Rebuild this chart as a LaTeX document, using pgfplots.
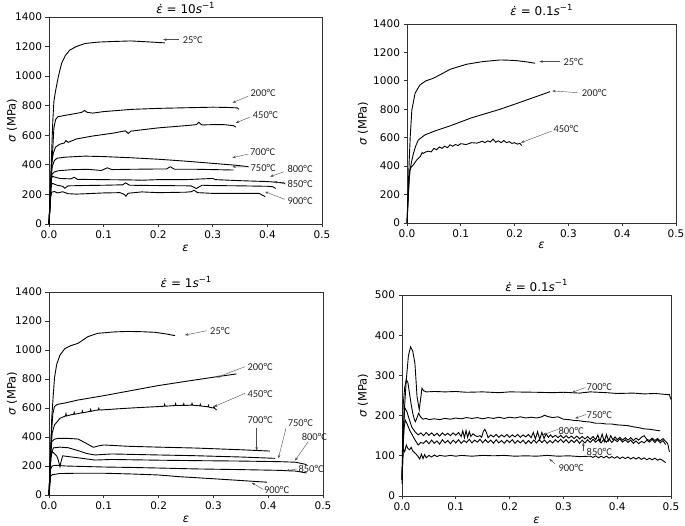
\documentclass[border=0pt]{standalone}
\usepackage{fontspec}
\setmainfont{DejaVu Sans}
\newfontfamily\annfont{Carlito}
\usepackage{pgfplots}
\pgfplotsset{compat=1.18}
\usetikzlibrary{arrows.meta}

\pgfplotsset{
  panel/.style={
    scale only axis,
    anchor=south west,
    xmin=0, xmax=0.5,
    xtick={0,0.1,0.2,0.3,0.4,0.5},
    tick pos=left,
    tick align=outside,
    major tick length=3.5pt,
    axis line style={black!80, line width=0.8pt},
    every tick/.style={black!80, line width=0.8pt},
    tick label style={font=\fontsize{10.5}{12}\selectfont},
    /pgf/number format/assume math mode=true,
    xticklabel style={/pgf/number format/.cd, fixed, fixed zerofill, precision=1},
    yticklabel style={/pgf/number format/1000 sep={}},
    label style={font=\fontsize{11.5}{13}\selectfont},
    title style={font=\fontsize{12}{14}\selectfont, anchor=center},
    xlabel={\textit{ε}},
    ylabel={\textit{σ} (MPa)},
    clip=false,
    every axis plot post/.append style={black, solid, line width=0.9pt, mark=none},
  },
}
\tikzset{
  ann/.style={font=\annfont\fontsize{10.5}{12}\selectfont, anchor=west, inner sep=0pt, text=black!85},
  arr/.style={-{Stealth[length=3.5pt,width=2.6pt]}, line width=0.4pt, black!70},
}

\begin{document}
\begin{tikzpicture}
\useasboundingbox (0,0) rectangle (685pt,526pt);

% ---------------- Panel 1: 10 s^-1 ----------------
\begin{axis}[panel, at={(49pt,302pt)}, width=273pt, height=207pt,
  ymin=0, ymax=1400, ytick={0,200,...,1400},
  title={\textit{ε̇} = 10\textit{s}\raisebox{0.45em}{\fontsize{8.5}{10}\selectfont −1}},
  title style={at={(axis description cs:0.5,1)}, yshift=3pt},
  xlabel style={at={(axis description cs:0.5,0)}, anchor=center, yshift=-24pt},
  ylabel style={at={(axis description cs:-0.1355,0.5)}, anchor=center}]
% 25C
\addplot coordinates {(0,0) (0.004,400) (0.007,700) (0.009,830) (0.012,900) (0.017,995) (0.023,1086) (0.03,1140) (0.038,1176) (0.05,1200) (0.066,1221) (0.09,1230) (0.115,1234) (0.15,1238) (0.18,1232) (0.212,1225)};
% 200C
\addplot coordinates {(0,0) (0.006,450) (0.009,650) (0.012,705) (0.016,725) (0.03,735) (0.05,748) (0.06,755) (0.065,768) (0.07,755) (0.08,750) (0.1,760) (0.15,775) (0.2,782) (0.25,786) (0.3,790) (0.33,788) (0.345,785) (0.348,775)};
% 450C
\addplot coordinates {(0,0) (0.005,420) (0.008,480) (0.012,520) (0.02,540) (0.028,548) (0.031,565) (0.035,552) (0.05,575) (0.08,595) (0.115,613) (0.14,630) (0.145,612) (0.15,628) (0.2,650) (0.25,665) (0.27,672) (0.274,688) (0.28,670) (0.3,672) (0.32,672) (0.338,665) (0.342,655)};
% 700C
\addplot coordinates {(0,0) (0.004,330) (0.006,390) (0.01,430) (0.015,445) (0.03,452) (0.066,459) (0.1,456) (0.15,448) (0.2,438) (0.25,425) (0.3,410) (0.34,398) (0.365,388)};
% 750C
\addplot coordinates {(0,0) (0.004,300) (0.006,340) (0.01,352) (0.017,360) (0.04,367) (0.07,370) (0.096,362) (0.107,380) (0.115,368) (0.15,370) (0.2,372) (0.215,372) (0.222,387) (0.23,370) (0.27,370) (0.3,368) (0.338,365)};
% 800C
\addplot coordinates {(0,0) (0.004,300) (0.006,322) (0.01,318) (0.02,308) (0.04,305) (0.046,316) (0.052,302) (0.1,300) (0.15,298) (0.17,296) (0.2,300) (0.25,300) (0.3,308) (0.305,300) (0.35,293) (0.4,287) (0.43,278) (0.432,272)};
% 850C
\addplot coordinates {(0,0) (0.004,260) (0.006,275) (0.015,262) (0.025,255) (0.029,242) (0.035,258) (0.06,260) (0.1,262) (0.135,265) (0.14,278) (0.148,262) (0.2,260) (0.26,258) (0.27,240) (0.28,262) (0.3,260) (0.35,258) (0.4,255) (0.41,252) (0.415,240)};
% 900C
\addplot coordinates {(0,0) (0.003,180) (0.005,215) (0.01,220) (0.015,210) (0.025,218) (0.035,205) (0.05,202) (0.1,210) (0.13,212) (0.138,200) (0.141,188) (0.145,208) (0.17,217) (0.2,212) (0.25,215) (0.26,218) (0.266,228) (0.272,212) (0.3,207) (0.35,207) (0.385,207) (0.396,185)};
\node[ann] at (axis cs:0.2447,1243) {25°C};
\draw[arr] (axis cs:0.2387,1247) -- (axis cs:0.209,1247);
\node[ann] at (axis cs:0.369,883) {200°C};
\draw[arr] (axis cs:0.365,865) -- (axis cs:0.336,820);
\node[ann] at (axis cs:0.373,736) {450°C};
\draw[arr] (axis cs:0.369,724) -- (axis cs:0.342,684);
\node[ann] at (axis cs:0.368,484) {700°C};
\draw[arr] (axis cs:0.365,473) -- (axis cs:0.336,448);
\node[ann] at (axis cs:0.369,381) {750°C};
\draw[arr] (axis cs:0.367,385) -- (axis cs:0.336,387);
\node[ann] at (axis cs:0.4365,369) {800°C};
\draw[arr] (axis cs:0.430,353) -- (axis cs:0.405,320);
\node[ann] at (axis cs:0.4365,270) {850°C};
\draw[arr] (axis cs:0.434,270) -- (axis cs:0.412,286);
\node[ann] at (axis cs:0.4365,155) {900°C};
\draw[arr] (axis cs:0.432,167) -- (axis cs:0.3956,218);
\end{axis}

% ---------------- Panel 2: 0.1 s^-1 ----------------
\begin{axis}[panel, at={(407pt,303pt)}, width=269pt, height=199pt,
  ymin=0, ymax=1400, ytick={0,200,...,1400},
  title={\textit{ε̇} = 0.1\textit{s}\raisebox{0.45em}{\fontsize{8.5}{10}\selectfont −1}},
  title style={at={(axis description cs:0.5,1)}, yshift=8pt},
  xlabel style={at={(axis description cs:0.5,0)}, anchor=center, yshift=-22pt},
  ylabel style={at={(axis description cs:-0.1636,0.5)}, anchor=center}]
% 25C
\addplot coordinates {(0,0) (0.0025,255) (0.004,430) (0.006,607) (0.009,795) (0.015,913) (0.024,971) (0.035,1000) (0.049,1018) (0.065,1050) (0.08,1081) (0.111,1117) (0.14,1135) (0.173,1147) (0.19,1145) (0.204,1142) (0.225,1132) (0.238,1124)};
% 200C
\addplot coordinates {(0,0) (0.004,300) (0.006,380) (0.009,440) (0.012,490) (0.016,540) (0.021,584) (0.033,619) (0.05,645) (0.08,683) (0.12,740) (0.173,800) (0.22,862) (0.266,924)};
% 450C
\addplot coordinates {(0,0) (0.003,250) (0.005,370) (0.008,395) (0.012,410) (0.018,443) (0.025,470) (0.028,495) (0.03,490) (0.035,500) (0.04,505) (0.045,500) (0.05,525) (0.055,515) (0.06,535) (0.065,525) (0.07,540) (0.075,530) (0.08,550) (0.085,540) (0.09,552) (0.095,545) (0.1,558) (0.11,552) (0.12,565) (0.13,562) (0.14,575) (0.145,565) (0.15,578) (0.155,570) (0.16,590) (0.165,568) (0.17,578) (0.175,565) (0.18,580) (0.185,565) (0.19,572) (0.195,560) (0.2,565) (0.205,555) (0.21,560) (0.213,545)};
\node[ann] at (axis cs:0.2906,1131) {25°C};
\draw[arr] (axis cs:0.284,1136) -- (axis cs:0.246,1136);
\node[ann] at (axis cs:0.3247,913) {200°C};
\draw[arr] (axis cs:0.3166,917) -- (axis cs:0.270,929);
\node[ann] at (axis cs:0.272,659) {450°C};
\draw[arr] (axis cs:0.269,647) -- (axis cs:0.2119,565);
\end{axis}

% ---------------- Panel 3: 1 s^-1 ----------------
\begin{axis}[panel, at={(49pt,31pt)}, width=274pt, height=203pt,
  ymin=0, ymax=1400, ytick={0,200,...,1400},
  title={\textit{ε̇} = 1\textit{s}\raisebox{0.45em}{\fontsize{8.5}{10}\selectfont −1}},
  title style={at={(axis description cs:0.5,1)}, yshift=4pt},
  xlabel style={at={(axis description cs:0.5,0)}, anchor=center, yshift=-24pt},
  ylabel style={at={(axis description cs:-0.135,0.5)}, anchor=center}]
% 25C
\addplot coordinates {(0,0) (0.003,300) (0.005,531) (0.008,700) (0.01,807) (0.014,900) (0.02,965) (0.029,1010) (0.04,1030) (0.053,1046) (0.071,1092) (0.089,1115) (0.12,1125) (0.144,1128) (0.17,1126) (0.193,1122) (0.215,1110) (0.23,1099)};
% 200C
\addplot coordinates {(0,0) (0.004,400) (0.007,560) (0.01,610) (0.015,625) (0.03,635) (0.053,655) (0.1,685) (0.15,720) (0.2,755) (0.266,793) (0.3,812) (0.342,835)};
% 450C
\addplot coordinates {(0,0) (0.003,300) (0.006,430) (0.01,483) (0.02,529) (0.03,545) (0.031,560) (0.032,545) (0.039,552) (0.045,557) (0.046,570) (0.047,557) (0.06,567) (0.061,580) (0.062,567) (0.075,577) (0.076,590) (0.077,577) (0.084,584) (0.09,586) (0.091,598) (0.092,586) (0.11,590) (0.12,593) (0.15,600) (0.2,610) (0.21,612) (0.211,625) (0.212,612) (0.23,617) (0.231,630) (0.232,617) (0.245,618) (0.246,630) (0.247,617) (0.26,620) (0.261,632) (0.262,619) (0.275,615) (0.276,626) (0.277,614) (0.29,608) (0.291,618) (0.292,606) (0.3,600) (0.301,610) (0.302,598) (0.306,586)};
% 700C
\addplot coordinates {(0,0) (0.003,250) (0.005,368) (0.01,385) (0.017,391) (0.035,390) (0.053,386) (0.068,356) (0.081,329) (0.09,338) (0.1,345) (0.144,336) (0.2,330) (0.266,324) (0.35,312) (0.403,303)};
% 750C
\addplot coordinates {(0,0) (0.004,280) (0.008,325) (0.02,330) (0.035,326) (0.053,306) (0.07,285) (0.084,276) (0.114,283) (0.2,276) (0.266,271) (0.35,262) (0.412,253)};
% 800C
\addplot coordinates {(0,0) (0.003,250) (0.006,300) (0.01,285) (0.014,270) (0.017,240) (0.02,195) (0.022,230) (0.025,270) (0.05,258) (0.084,241) (0.114,245) (0.2,240) (0.266,237) (0.35,234) (0.42,230) (0.45,226) (0.47,210)};
% 850C
\addplot coordinates {(0,0) (0.003,180) (0.006,200) (0.012,205) (0.03,200) (0.06,197) (0.1,193) (0.15,190) (0.2,186) (0.266,180) (0.35,175) (0.42,170) (0.45,165) (0.47,152)};
% 900C
\addplot coordinates {(0,0) (0.003,130) (0.006,140) (0.02,148) (0.05,150) (0.1,150) (0.15,145) (0.2,138) (0.239,126) (0.266,120) (0.3,112) (0.35,100) (0.398,88)};
\node[ann] at (axis cs:0.2938,1131) {25°C};
\draw[arr] (axis cs:0.288,1133) -- (axis cs:0.248,1103);
\node[ann] at (axis cs:0.362,880) {200°C};
\draw[arr] (axis cs:0.3577,885) -- (axis cs:0.306,811);
\node[ann] at (axis cs:0.362,694) {450°C};
\draw[arr] (axis cs:0.3577,701) -- (axis cs:0.301,609);
\node[ann] at (axis cs:0.362,517) {700°C};
\draw[arr] (axis cs:0.379,460) -- (axis cs:0.379,306);
\node[ann] at (axis cs:0.4355,494) {750°C};
\draw[arr] (axis cs:0.4325,460) -- (axis cs:0.4185,253);
\node[ann] at (axis cs:0.461,402) {800°C};
\draw[arr] (axis cs:0.473,368) -- (axis cs:0.449,237);
\node[ann] at (axis cs:0.455,179) {850°C};
\draw[arr] (axis cs:0.452,179) -- (axis cs:0.4325,168);
\node[ann] at (axis cs:0.392,34) {900°C};
\draw[arr] (axis cs:0.391,38) -- (axis cs:0.37,85);
\end{axis}

% ---------------- Panel 4: 0.1 s^-1 high T ----------------
\begin{axis}[panel, at={(402pt,30pt)}, width=269pt, height=201pt,
  ymin=0, ymax=500, ytick={0,100,...,500},
  title={\textit{ε̇} = 0.1\textit{s}\raisebox{0.45em}{\fontsize{8.5}{10}\selectfont −1}},
  title style={at={(axis description cs:0.5,1)}, yshift=3.5pt},
  xlabel style={at={(axis description cs:0.5,0)}, anchor=center, yshift=-24pt},
  ylabel style={at={(axis description cs:-0.145,0.5)}, anchor=center}]
% 700C
\addplot coordinates {(0,40) (0.002,120) (0.004,206) (0.008,289) (0.012,350) (0.016,371) (0.02,360) (0.024,330) (0.028,247) (0.032,215) (0.035,245) (0.037,268) (0.04,262) (0.045,259) (0.06,260) (0.08,259) (0.1,260) (0.12,258) (0.15,259) (0.18,257) (0.2,259) (0.25,258) (0.28,257) (0.3,258) (0.33,256) (0.35,259) (0.38,257) (0.4,255) (0.43,256) (0.45,254) (0.47,255) (0.497,252) (0.5,240)};
% 750C
\addplot coordinates {(0,40) (0.002,222) (0.005,270) (0.008,290) (0.011,282) (0.014,255) (0.017,228) (0.02,206) (0.023,190) (0.025,185) (0.028,195) (0.031,206) (0.034,198) (0.039,191) (0.045,193) (0.05,190) (0.06,192) (0.07,190) (0.08,193) (0.09,191) (0.1,194) (0.11,192) (0.12,195) (0.13,193) (0.14,195) (0.15,192) (0.16,195) (0.17,193) (0.18,196) (0.19,193) (0.2,196) (0.21,194) (0.22,197) (0.23,194) (0.24,196) (0.25,194) (0.26,197) (0.265,201) (0.27,198) (0.28,195) (0.29,197) (0.3,191) (0.31,190) (0.32,188) (0.33,187) (0.34,185) (0.35,184) (0.36,181) (0.37,181) (0.38,179) (0.39,179) (0.4,177) (0.41,176) (0.42,175) (0.43,172) (0.44,170) (0.45,167) (0.46,166) (0.47,164) (0.48,162)};
% 800C
\addplot table {
0 45
0.002 150
0.005 220
0.009 210
0.012 197
0.018 172
0.024 160
0.030 152
0.035 157
0.040 150
0.045 158
0.050 151
0.055 157
0.060 150
0.065 156
0.070 149
0.075 157
0.080 151
0.085 156
0.090 150
0.095 157
0.100 151
0.105 158
0.110 148
0.113 162
0.116 145
0.119 163
0.122 146
0.125 160
0.128 148
0.132 155
0.136 150
0.140 148
0.145 150
0.148 146
0.151 160
0.154 166
0.157 158
0.160 145
0.165 152
0.170 147
0.175 153
0.180 146
0.185 152
0.190 147
0.195 153
0.200 146
0.205 152
0.210 147
0.215 153
0.220 146
0.225 152
0.230 147
0.235 153
0.240 145
0.244 158
0.248 142
0.252 160
0.256 141
0.260 158
0.264 143
0.268 155
0.272 146
0.276 152
0.280 146
0.285 151
0.290 145
0.295 151
0.300 144
0.305 150
0.310 144
0.315 149
0.320 143
0.325 149
0.330 142
0.335 148
0.340 142
0.345 148
0.350 141
0.355 148
0.360 140
0.364 152
0.368 136
0.372 154
0.376 135
0.380 153
0.384 137
0.388 150
0.392 140
0.396 147
0.400 140
0.405 146
0.410 139
0.415 145
0.420 139
0.425 145
0.430 138
0.435 144
0.440 139
0.445 146
0.450 150
0.455 141
0.460 138
0.465 144
0.470 138
0.475 143
0.480 137
0.485 143
0.490 136
0.494 130
0.497 110
};
% 850C
\addplot table {
0 40
0.002 120
0.004 170
0.006 189
0.010 178
0.014 164
0.019 152
0.024 140
0.030 127
0.035 133
0.040 131
0.045 138
0.050 130
0.055 139
0.060 131
0.065 137
0.070 129
0.075 140
0.080 132
0.085 138
0.090 130
0.095 139
0.100 132
0.105 140
0.110 131
0.115 138
0.120 133
0.125 141
0.130 132
0.135 139
0.140 134
0.145 141
0.150 132
0.155 140
0.160 133
0.165 139
0.170 131
0.175 140
0.180 132
0.185 138
0.190 131
0.195 139
0.200 133
0.205 140
0.210 131
0.215 138
0.220 132
0.225 139
0.230 130
0.235 138
0.240 131
0.245 139
0.250 132
0.255 140
0.260 133
0.265 139
0.270 131
0.275 138
0.280 132
0.285 140
0.290 134
0.295 141
0.300 133
0.305 140
0.310 132
0.315 139
0.320 133
0.325 140
0.330 131
0.335 139
0.340 132
0.345 140
0.350 133
0.355 141
0.360 134
0.365 140
0.370 132
0.375 141
0.380 134
0.385 142
0.390 133
0.395 141
0.400 135
0.405 142
0.410 134
0.415 140
0.420 133
0.425 139
0.430 131
0.435 137
0.440 130
0.445 136
0.450 132
0.455 139
0.460 134
0.465 141
0.470 133
0.475 140
0.480 132
0.485 138
0.490 128
};
% 900C
\addplot table {
0 30
0.002 118
0.005 110
0.008 127
0.011 118
0.014 115
0.017 121
0.020 112
0.025 106
0.030 98
0.033 92
0.036 104
0.039 93
0.042 103
0.045 95
0.050 101
0.055 97
0.060 102
0.065 98
0.070 101
0.080 99
0.090 101
0.100 99
0.110 101
0.120 100
0.130 99
0.150 101
0.170 100
0.190 101
0.210 99
0.230 100
0.250 99
0.270 101
0.290 99
0.310 100
0.330 98
0.350 99
0.355 96
0.360 100
0.365 95
0.370 99
0.375 95
0.380 99
0.385 94
0.390 98
0.395 94
0.400 98
0.405 93
0.410 97
0.415 93
0.420 97
0.425 92
0.430 96
0.435 92
0.440 96
0.445 91
0.450 95
0.455 90
0.460 94
0.465 90
0.470 94
0.475 89
0.480 92
0.485 88
0.490 83
};
\node[ann] at (axis cs:0.343,272) {700°C};
\draw[arr] (axis cs:0.341,270) -- (axis cs:0.3154,257);
\node[ann] at (axis cs:0.343,201) {750°C};
\draw[arr] (axis cs:0.343,203) -- (axis cs:0.3216,193);
\node[ann] at (axis cs:0.2906,163) {800°C};
\draw[arr] (axis cs:0.2906,166) -- (axis cs:0.2615,152);
\node[ann] at (axis cs:0.343,109) {850°C};
\draw[arr] (axis cs:0.337,113) -- (axis cs:0.337,133);
\node[ann] at (axis cs:0.2906,71) {900°C};
\draw[arr] (axis cs:0.2844,80) -- (axis cs:0.2738,92);
\end{axis}
\end{tikzpicture}
\end{document}
